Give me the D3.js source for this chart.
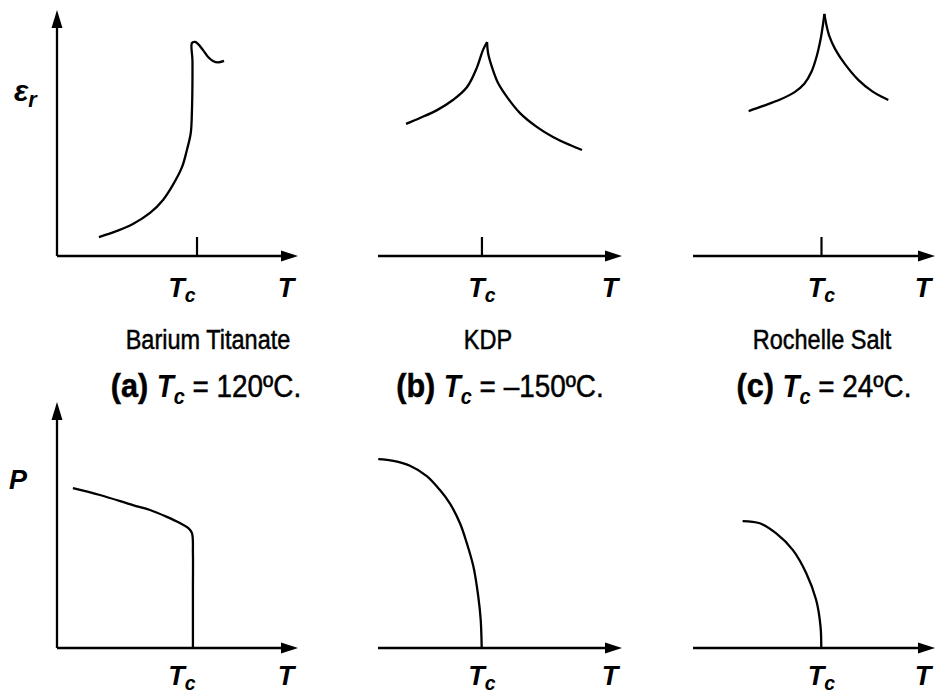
<!DOCTYPE html>
<html>
<head>
<meta charset="utf-8">
<script src="https://cdn.jsdelivr.net/npm/d3@7"></script>
<style>
  html, body { margin: 0; padding: 0; background: #fff; }
  svg { display: block; }
  text { font-family: "Liberation Sans", Arial, Helvetica, sans-serif; fill: #000; }
</style>
</head>
<body>
<svg id="chart" width="936" height="696"></svg>
<script>
// ---- data (temperature and response in relative units, 0..100) ----
const materials = ["Barium Titanate", "KDP", "Rochelle Salt"];
const panelTags = ["(a)", "(b)", "(c)"];
const curieText = [" = 120ºC.", " = –150ºC.", " = 24ºC."];
const curiePos = [58.1, 42.6, 53.1];          // Tc on each temperature axis

// relative permittivity εr versus T
const epsBaTiO3 = [[17.4, 7.7], [24.9, 10.2], [31.5, 13.0], [38.6, 17.5], [44.0, 22.8],
  [48.1, 28.9], [51.9, 36.2], [53.9, 43.1], [55.5, 50.0], [56.0, 59.3], [56.2, 70.3],
  [56.2, 79.7], [56.0, 86.6], [57.3, 87.0], [58.5, 86.2], [60.6, 83.7], [62.7, 80.9],
  [64.7, 79.3], [66.8, 78.7], [69.3, 79.3]];
const epsKDPBelow = [[11.5, 53.7], [17.2, 56.1], [24.2, 59.3], [30.7, 63.4], [36.5, 68.7],
  [40.6, 76.8], [43.0, 83.7], [44.7, 87.0]];
const epsKDPAbove = [[44.7, 87.0], [45.1, 82.5], [46.7, 76.8], [49.2, 70.3], [52.9, 64.6],
  [58.2, 58.1], [65.2, 52.4], [71.7, 48.4], [78.7, 45.1], [83.6, 43.1]];
const epsRochelleBelow = [[23.0, 58.9], [29.0, 61.0], [36.0, 63.6], [42.0, 66.6], [46.0, 70.0],
  [49.0, 75.0], [51.2, 81.5], [52.8, 88.5], [53.7, 94.0], [54.3, 98.4]];
const epsRochelleAbove = [[54.3, 98.4], [55.0, 94.5], [56.3, 89.5], [58.8, 84.0], [62.8, 78.0],
  [68.4, 71.5], [74.1, 66.9], [78.2, 64.6], [80.7, 63.4]];

// spontaneous polarization P versus T
const polBaTiO3 = [[6.6, 65.0], [17.8, 62.2], [31.5, 58.1], [38.6, 56.1], [45.6, 53.3],
  [51.0, 50.8], [54.4, 48.8], [56.0, 46.7], [56.4, 38.6], [56.4, 24.8], [56.4, 11.4], [56.4, 0]];
const polKDP = [[0.1, 76.8], [6.3, 76.1], [13.1, 74.1], [20.0, 69.9], [25.4, 64.2],
  [29.5, 58.7], [33.6, 50.7], [36.4, 42.6], [39.1, 33.1], [41.1, 20.9], [42.1, 11.4], [42.5, 0]];
const polRochelle = [[20.5, 51.6], [27.6, 50.7], [34.4, 46.6], [41.3, 39.8], [46.8, 30.4],
  [50.9, 19.5], [52.7, 8.7], [53.0, 0]];

// ---- layout ----
const svg = d3.select("#chart");
const colRanges = [[57, 298], [378, 622], [693, 935]];
const rowRanges = [[256, 10], [648, 402]];
const xScales = colRanges.map(r => d3.scaleLinear().domain([0, 100]).range(r));
const yScales = rowRanges.map(r => d3.scaleLinear().domain([0, 100]).range(r));

const FONT_LABEL = 27;
const labelOffset = [41, 37];   // baseline of T labels below each row's axis

function arrowRight(g, x, y) {
  g.append("path").attr("d", `M${x},${y} L${x - 17},${y - 5.5} L${x - 17},${y + 5.5} Z`).attr("fill", "#000");
}
function arrowUp(g, x, y) {
  g.append("path").attr("d", `M${x},${y} L${x - 5.5},${y + 18} L${x + 5.5},${y + 18} Z`).attr("fill", "#000");
}

// italic bold symbol with subscript, e.g. T_c
function symbol(g, x, y, main, sub, size, anchor) {
  const t = g.append("text")
    .attr("x", x).attr("y", y)
    .attr("font-size", size)
    .attr("font-weight", "bold")
    .attr("font-style", "italic")
    .attr("text-anchor", anchor || "start");
  t.append("tspan").text(main);
  if (sub) t.append("tspan").attr("font-size", size * 0.72).attr("dy", size * 0.2).text(sub);
  return t;
}

const curves = [
  [epsBaTiO3], [epsKDPBelow, epsKDPAbove], [epsRochelleBelow, epsRochelleAbove],
  [polBaTiO3], [polKDP], [polRochelle]
];
const tcLabelShift = [-15, 0, 0];

for (let row = 0; row < 2; row++) {
  const y = yScales[row];
  for (let col = 0; col < 3; col++) {
    const x = xScales[col];
    const g = svg.append("g");
    const y0 = y(0);

    // temperature axis
    g.append("line")
      .attr("x1", x(0)).attr("x2", x(100) - 8)
      .attr("y1", y0).attr("y2", y0)
      .attr("stroke", "#000").attr("stroke-width", 2.3);
    arrowRight(g, x(100), y0);

    // vertical axis only on the first column
    if (col === 0) {
      g.append("line")
        .attr("x1", x(0)).attr("x2", x(0))
        .attr("y1", y0).attr("y2", y(100) + 8)
        .attr("stroke", "#000").attr("stroke-width", 2.3);
      arrowUp(g, x(0), y(100));
    }

    // Curie temperature tick on the permittivity plots
    if (row === 0) {
      g.append("line")
        .attr("x1", x(curiePos[col])).attr("x2", x(curiePos[col]))
        .attr("y1", y0).attr("y2", y0 - 19)
        .attr("stroke", "#000").attr("stroke-width", 2.2);
    }

    // curve(s)
    const line = d3.line()
      .x(d => x(d[0])).y(d => y(d[1]))
      .curve(d3.curveCatmullRom.alpha(0.5));
    curves[row * 3 + col].forEach(seg => {
      g.append("path").attr("d", line(seg))
        .attr("fill", "none").attr("stroke", "#000")
        .attr("stroke-width", 2.3).attr("stroke-linejoin", "round");
    });

    // axis labels
    const lblY = y0 + labelOffset[row];
    symbol(g, x(curiePos[col]) + tcLabelShift[col], lblY, "T", "c", FONT_LABEL, "middle");
    symbol(g, x(100) - 12, lblY, "T", null, FONT_LABEL, "middle");
  }
}

// vertical axis titles
symbol(svg, 14, 101, "ε", "r", 30, "start");
symbol(svg, 9, 489, "P", null, FONT_LABEL, "start");

// material names and captions
const nameX = [208, 488, 822];
const capX = [206, 500, 824];
materials.forEach((name, i) => {
  svg.append("g")
    .attr("transform", `translate(${nameX[i]},349) scale(0.84,1)`)
    .append("text").attr("text-anchor", "middle").attr("font-size", 28)
    .attr("stroke", "#000").attr("stroke-width", 0.5)
    .text(name);

  const t = svg.append("g")
    .attr("transform", `translate(${capX[i]},397) scale(0.9,1)`)
    .append("text").attr("text-anchor", "middle").attr("font-size", 31)
    .attr("stroke", "#000").attr("stroke-width", 0.5);
  t.append("tspan").attr("font-size", 34).attr("font-weight", "bold").text(panelTags[i] + " ");
  t.append("tspan").attr("font-weight", "bold").attr("font-style", "italic").attr("stroke-width", 0).text("T");
  t.append("tspan").attr("font-weight", "bold").attr("font-style", "italic").attr("stroke-width", 0)
    .attr("font-size", 22).attr("dy", 7).text("c");
  t.append("tspan").attr("dy", -7).text(curieText[i]);
});
</script>
</body>
</html>
